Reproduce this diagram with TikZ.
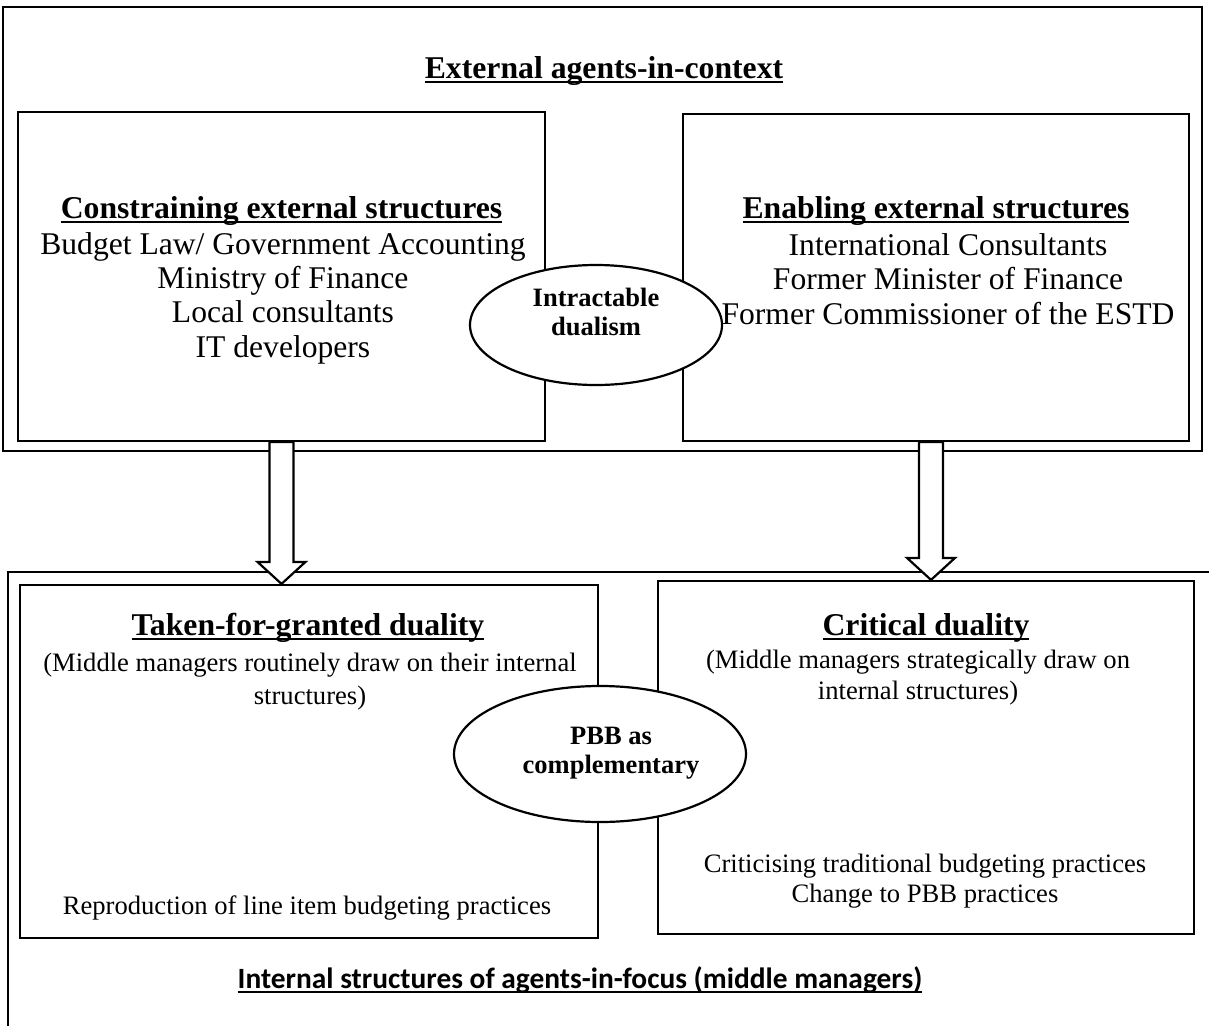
\documentclass[tikz,border=0pt]{standalone}
\usepackage{fontspec}
\setmainfont{Liberation Serif}
\newfontfamily\calibrifont{Carlito}
\usetikzlibrary{shapes.geometric,calc}

% underline just below the baseline
\newcommand{\uln}[1]{\leavevmode\vtop{\hbox{\smash{#1}}\kern3pt\hrule height 2.2pt}}
% hollow block arrow between two points
\newcommand{\hollowarrow}[2]{%
  \draw[fatarrow] let \p1=(#1), \p2=(#2) in
    (\x1-12pt,\y1) -- (\x1-12pt,\y2+22pt) -- (\x1-24pt,\y2+22pt) -- (\x1,\y2)
    -- (\x1+24pt,\y2+22pt) -- (\x1+12pt,\y2+22pt) -- (\x1+12pt,\y1) -- cycle;}

\begin{document}
\begin{tikzpicture}[x=1pt, y=-1pt,
    frame/.style={draw, line width=2.2pt, inner sep=0pt},
    box/.style={draw, line width=2.2pt, inner sep=0pt},
    oval/.style={ellipse, draw, fill=white, line width=2.2pt, inner sep=0pt},
    ovtext/.style={anchor=base, inner sep=0pt, align=center, font=\fontsize{26.5}{29}\selectfont\bfseries},
    head/.style={anchor=base, inner sep=0pt, font=\fontsize{31.7}{35}\selectfont\bfseries},
    list/.style={anchor=base, inner sep=0pt, align=center, font=\fontsize{31.6}{34.2}\selectfont},
    note/.style={anchor=base, inner sep=0pt, align=center, font=\fontsize{26.6}{31}\selectfont},
    fatarrow/.style={draw, fill=white, line width=2.2pt, line join=miter}
]
    \useasboundingbox (0,0) rectangle (1209,1025);

    % external agents-in-context
    \node[frame, minimum width=1199pt, minimum height=444pt] (context) at (602.5,229) {};
    \node[head] (ctxtitle) at (604,78) {\uln{External agents-in-context}};
    \node[box, minimum width=527pt, minimum height=329pt] (cons) at (281.5,276.5) {};
    \node[box, minimum width=506pt, minimum height=327pt] (enab) at (936,277.5) {};
    \node[head] (constitle) at (281.5,218) {\uln{Constraining external structures}};
    \node[list] (conslist) at (283,357) {Budget Law/ Government Accounting\\Ministry of Finance\\Local consultants\\IT developers};
    \node[head] (enabtitle) at (936,218) {\uln{Enabling external structures}};
    \node[list] (enablist) at (948,324) {International Consultants\\Former Minister of Finance\\Former Commissioner of the ESTD};
    \node[oval, minimum width=252pt, minimum height=120pt] (dualism) at (596,325) {};
    \node[ovtext] (dualtext) at (596,335) {Intractable\\dualism};

    % internal structures of agents-in-focus
    \draw[line width=2.2pt] (8,1030) |- (1215,572);
    \node[box, minimum width=578pt, minimum height=353pt] (taken) at (309,761.5) {};
    \node[box, minimum width=536pt, minimum height=353pt] (crit) at (926,757.5) {};
    \node[head] (takentitle) at (308,635) {\uln{Taken-for-granted duality}};
    \node[note, font=\fontsize{26.6}{33}\selectfont] (takennote) at (310,704) {(Middle managers routinely draw on their internal\\structures)};
    \node[note] (takenres) at (307,914) {Reproduction of line item budgeting practices};
    \node[head] (crittitle) at (926,635) {\uln{Critical duality}};
    \node[note] (critnote) at (918,699) {(Middle managers strategically draw on\\internal structures)};
    \node[note, font=\fontsize{26.6}{30}\selectfont] (critres) at (925,902) {Criticising traditional budgeting practices\\Change to PBB practices};
    \node[oval, minimum width=292pt, minimum height=136pt] (pbb) at (600,754) {};
    \node[ovtext] (pbbtext) at (611,773) {PBB as\\complementary};
    \node[anchor=base, inner sep=0pt, font=\calibrifont\fontsize{29.4}{32}\selectfont\bfseries] (focus) at (580,988) {\uln{Internal structures of agents-in-focus (middle managers)}};

    % links
    \coordinate (enabfoot) at ($(enab.south)+(-5,0)$);
    \hollowarrow{cons.south}{cons.south |- taken.north}
    \hollowarrow{enabfoot}{enabfoot |- crit.north}
\end{tikzpicture}
\end{document}
